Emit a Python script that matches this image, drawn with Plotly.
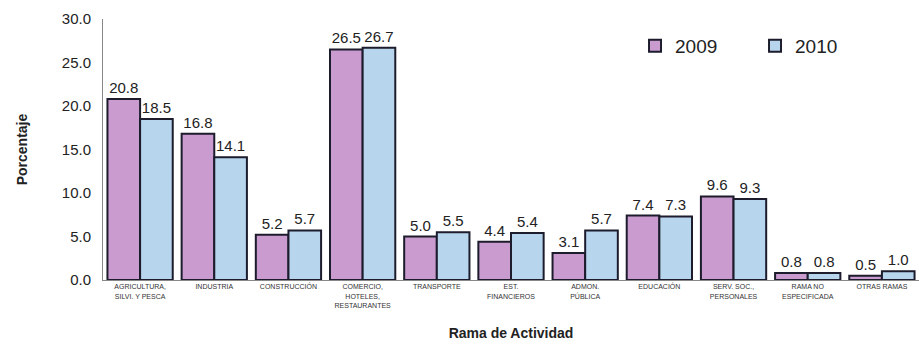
import plotly.graph_objects as go

categories = [
    "AGRICULTURA,<br>SILVI. Y PESCA", "INDUSTRIA", "CONSTRUCCIÓN",
    "COMERCIO,<br>HOTELES,<br>RESTAURANTES", "TRANSPORTE", "EST.<br>FINANCIEROS",
    "ADMON.<br>PÚBLICA", "EDUCACIÓN", "SERV. SOC.,<br>PERSONALES",
    "RAMA NO<br>ESPECIFICADA", "OTRAS RAMAS",
]
values_2009 = [20.8, 16.8, 5.2, 26.5, 5.0, 4.4, 3.1, 7.4, 9.6, 0.8, 0.5]
values_2010 = [18.5, 14.1, 5.7, 26.7, 5.5, 5.4, 5.7, 7.3, 9.3, 0.8, 1.0]
y_ticks = [0, 5, 10, 15, 20, 25, 30]

FONT = "Liberation Sans, Arial, sans-serif"

fig = go.Figure()
for name, vals, color in [("2009", values_2009, "#C99BCF"), ("2010", values_2010, "#B7D6EE")]:
    fig.add_trace(go.Bar(
        name=name, x=categories, y=vals,
        marker=dict(color=color, line=dict(color="#1c1c2c", width=2)),
        text=[f"{v:.1f}" for v in vals], textposition="outside",
        textfont=dict(size=15, color="#222", family=FONT),
        cliponaxis=False,
    ))

fig.update_layout(
    width=919, height=347,
    margin=dict(l=103, r=0, t=19, b=67, autoexpand=False),
    barmode="group", bargap=0.12, bargroupgap=0,
    plot_bgcolor="white", paper_bgcolor="white",
    font=dict(family=FONT, color="#222"),
    showlegend=True,
    legend=dict(orientation="h", x=0.652, y=0.97, xanchor="left", yanchor="top",
                font=dict(size=19, family=FONT, color="#222"),
                bgcolor="rgba(0,0,0,0)", itemwidth=30, traceorder="normal",
                entrywidth=75, entrywidthmode="pixels"),
    xaxis=dict(
        title=dict(text="<b>Rama de Actividad</b>", font=dict(size=14, family=FONT, color="#222"), standoff=20),
        tickfont=dict(size=7, family=FONT, color="#333"), tickangle=0,
        showline=True, linecolor="#888", linewidth=1, ticks="", mirror=False,
    ),
    yaxis=dict(
        title=dict(text="<b>Porcentaje</b>", font=dict(size=14, family=FONT, color="#222"), standoff=30),
        range=[0, 30], tickvals=y_ticks, ticktext=[f"{v:.1f}" for v in y_ticks],
        tickfont=dict(size=15, family=FONT, color="#222"), ticklabelstandoff=8,
        showgrid=False, showline=True, linecolor="#888", linewidth=1, zeroline=False,
        ticks="", mirror=True,
    ),
)
fig.write_html("out.html")
